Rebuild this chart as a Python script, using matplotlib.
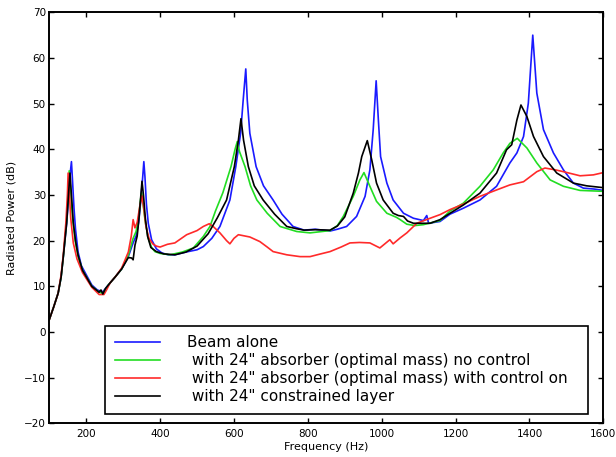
import matplotlib
matplotlib.use("Agg")
import matplotlib.pyplot as plt

plt.rcParams['font.family'] = ['DejaVu Sans']

# ---- data ----
freq_blue = [100, 112, 124, 132, 138, 147, 153, 157, 160, 163, 167, 171, 178, 187, 197, 215, 230, 245, 252, 260,
             278, 296, 314, 327, 335, 342, 348, 353, 356, 359, 363, 368, 377, 390, 405, 422, 440, 470, 500, 517,
             540, 562, 589, 605, 618, 625, 632, 636, 643, 660, 680, 706, 730, 760, 790, 820, 860, 880,
             905, 932, 955, 968, 977, 985, 991, 997, 1014, 1031, 1059, 1086, 1113, 1118, 1122, 1127, 1158, 1185,
             1221, 1266, 1311, 1347, 1366, 1384, 1397, 1409, 1420, 1438, 1465, 1492, 1519, 1546, 1575, 1600]
db_blue = [2.7, 5.5, 8.5, 12, 16.5, 23.8, 30, 35, 37.3, 33, 27, 22.5, 17.5, 14.5, 13, 10.3, 9.2, 8.8, 9.5, 10.3,
           12, 13.8, 16.5, 19.5, 21, 24, 29, 34, 37.3, 34, 28, 23.8, 20.2, 18.2, 17.3, 16.9, 16.9, 17.5, 18, 18.7,
           20.5, 23.1, 28.9, 36.2, 43.5, 50.8, 57.6, 50.8, 43.5, 36.2, 32, 28.9, 25.8, 23.1, 22.3, 22.5, 22.1, 22.5,
           23.1, 25.3, 29.7, 35.5, 44.3, 55, 46.4, 38.4, 32.6, 28.9, 26, 24.9, 24.4, 25.0, 25.5, 23.8, 24.2, 25.8,
           27.1, 28.9, 31.9, 37, 39.2, 42.8, 50.1, 65, 52.3, 44.3, 39.2, 35.5, 32.6, 31.5, 31.3, 31]

freq_green = [100, 112, 124, 132, 138, 147, 151, 154, 158, 163, 170, 178, 190, 215, 235, 245, 252, 260, 278, 296,
              314, 327, 335, 342, 347, 350, 354, 360, 368, 377, 386, 400, 427, 460, 490, 517, 535, 550, 570, 592,
              603, 609, 615, 630, 645, 662, 690, 725, 770, 806, 860, 880, 896, 923, 941, 952, 968, 986, 1014, 1040,
              1050, 1068, 1090, 1113, 1158, 1185, 1221, 1266, 1302, 1329, 1347, 1367, 1393, 1420, 1456, 1492, 1537,
              1600]
db_green = [2.7, 5.5, 8.5, 12, 16.5, 24.5, 30, 35.3, 31, 25, 20, 16.5, 13.5, 10, 8.7, 8.5, 9.3, 10.3, 12, 13.8,
            16.8, 20.5, 22, 25, 29, 30.5, 28, 24, 20.5, 18.5, 17.6, 17.2, 16.9, 17.5, 18.4, 20.9, 23.1, 26.5, 30.5, 36.2,
            40, 41.7, 39.5, 36.2, 32, 28.9, 26, 23.1, 22, 21.7, 22.2, 23.3, 25.3, 29.7, 33.3, 34.9, 31.9, 28.6, 26, 25.1,
            24.6, 23.6, 23.3, 23.5, 24.4, 26.5, 28.2, 31.9, 35.5, 39.2, 41.3, 42.4, 40.3, 37, 33.3, 31.9, 31,
            30.8]

freq_red = [100, 112, 124, 132, 138, 145, 149, 151, 154, 158, 165, 175, 190, 215, 235, 248, 255, 265, 280, 296,
            314, 322, 327, 332, 338, 345, 351, 356, 362, 370, 380, 390, 400, 420, 440, 472, 500, 517, 533, 545,
            562, 580, 589, 600, 612, 643, 670, 690, 706, 743, 779, 806, 830, 860, 890, 914, 940, 968, 995, 1010,
            1022, 1031, 1050, 1068, 1095, 1131, 1158, 1185, 1221, 1266, 1311, 1347, 1384, 1420, 1442, 1470, 1492,
            1537, 1573, 1600]
db_red = [2.7, 5.5, 8.5, 12.5, 17, 24, 30, 34.8, 31, 25, 19.5, 16, 13, 9.8, 8.2, 8.2, 9.2, 10.8, 12.2, 14,
          17.5, 21, 24.6, 22.8, 24, 27.5, 29.8, 27, 23, 20.5, 19.3, 18.8, 18.6, 19.2, 19.5, 21.3, 22.2, 23.1, 23.7, 23,
          21.7, 20.0, 19.3, 20.5, 21.3, 20.8, 19.8, 18.6, 17.6, 16.9, 16.5, 16.5, 17, 17.6, 18.6, 19.5, 19.6, 19.5, 18.4, 19.4,
          20.2, 19.3, 20.6, 21.7, 23.8, 24.9, 25.7, 26.8, 28, 29.7, 31.1, 32.2, 32.9, 35.1, 35.9, 35.5, 35.1,
          34.2, 34.4, 34.9]

freq_black = [100, 112, 124, 132, 138, 147, 152, 156, 160, 165, 171, 178, 190, 215, 235, 240, 245, 252, 260, 278,
              296, 314, 323, 327, 332, 338, 343, 348, 351, 355, 360, 366, 375, 390, 410, 440, 470, 500, 530, 555,
              580, 601, 612, 619, 626, 639, 655, 679, 710, 743, 770, 790, 820, 860, 880, 900, 923, 937, 946, 961, 973,
              986, 1004, 1031, 1045, 1059, 1070, 1086, 1131, 1158, 1185, 1221, 1266, 1311, 1338, 1352, 1366, 1377,
              1393, 1411, 1438, 1474, 1519, 1555, 1600]
db_black = [2.7, 5.5, 8.5, 12, 16.5, 23.8, 30, 34.8, 30, 24, 20, 16.8, 13.5, 10, 8.7, 9.2, 8.3, 9.5, 10.3, 12,
            13.8, 16.3, 16.2, 15.8, 19, 21, 25, 30, 33, 30, 25, 21, 18.5, 17.6, 17.1, 16.9, 17.5, 18.8, 21.5, 25,
            28.9, 36.2, 42, 46.7, 42, 36.2, 32, 28.9, 25.8, 23.1, 22.6, 22.3, 22.4, 22.3, 23.2, 25.2, 30.4, 34.8, 38.4, 41.9, 37.7,
            32.6, 28.9, 26, 25.5, 25.3, 24.3, 23.8, 23.8, 24.6, 26, 27.8, 30.4, 34.8, 39.9, 41, 46.4, 49.7,
            47.2, 42.8, 38.4, 34.8, 32.6, 32, 31.6]

labels = ["Beam alone",
          " with 24\" absorber (optimal mass) no control",
          " with 24\" absorber (optimal mass) with control on",
          " with 24\" constrained layer"]
colors = ["#1a1aff", "#22dd22", "#ff2a2a", "#000000"]

xticks = [200, 400, 600, 800, 1000, 1200, 1400, 1600]
yticks = [-20, -10, 0, 10, 20, 30, 40, 50, 60, 70]

fig = plt.figure(figsize=(6.16, 4.57), dpi=100)
ax = fig.add_axes([0.080, 0.0737, 0.8994, 0.8994])

series = [(freq_blue, db_blue), (freq_green, db_green), (freq_red, db_red), (freq_black, db_black)]
for (f, d), c, lab in zip(series, colors, labels):
    ax.plot(f, d, color=c, lw=1.2, label=lab)

ax.set_xlim(100, 1600)
ax.set_ylim(-20, 70)
ax.set_xticks(xticks)
ax.set_yticks(yticks)
ax.tick_params(direction='in', length=3.5, width=1.0, top=True, right=True, labelsize=7.5)
ax.tick_params(axis='y', pad=2.5)
ax.tick_params(axis='x', pad=4)
for s in ax.spines.values():
    s.set_linewidth(1.4)

ax.set_xlabel("Frequency (Hz)", fontsize=8, labelpad=2)
ax.set_ylabel("Radiated Power (dB)", fontsize=8, labelpad=5)

leg = ax.legend(loc='lower left', bbox_to_anchor=(0.101, 0.023, 0.872, 0.22), mode='expand',
                fontsize=11, frameon=True, fancybox=False, edgecolor='black',
                handlelength=2.95, handletextpad=1.8, labelspacing=0.2, borderpad=0.62,
                borderaxespad=0)
leg.get_frame().set_linewidth(1.2)
leg.get_frame().set_alpha(1)

fig.savefig("out.png", dpi=100)
